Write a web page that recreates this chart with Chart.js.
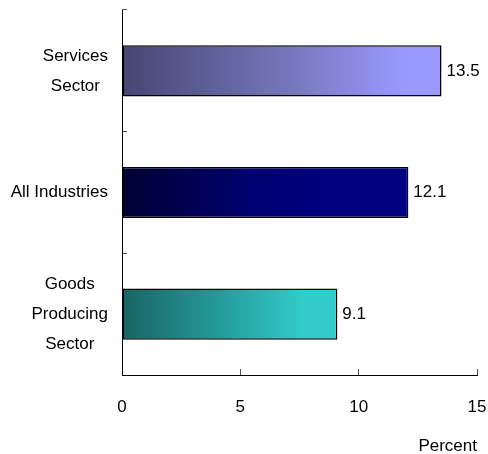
<!DOCTYPE html>
<html>
<head>
<meta charset="utf-8">
<script src="https://cdn.jsdelivr.net/npm/chart.js@4/dist/chart.umd.min.js"></script>
<style>
html,body{margin:0;padding:0;background:#fff;}
canvas{display:block;}
</style>
</head>
<body>
<canvas id="c" width="488" height="454"></canvas>
<script>
const categories = [["Services", "Sector"], ["All Industries"], ["Goods", "Producing", "Sector"]];
const values = [13.5, 12.1, 9.1];
const xTicks = [0, 5, 10, 15];
const axisTitle = "Percent";
const gradientStops = [
  [["#464673", 0], ["#7474b8", 0.5], ["#9999ff", 0.88], ["#9999ff", 1]],
  [["#000033", 0], ["#000070", 0.45], ["#000080", 0.7], ["#000080", 1]],
  [["#1a6464", 0], ["#259a9a", 0.45], ["#33cccc", 0.85], ["#33cccc", 1]]
];

const FONT = "'Liberation Sans', Arial, sans-serif";
const FS = 17;

function barGradient(ctx) {
  const chart = ctx.chart;
  const i = ctx.dataIndex;
  if (!chart.chartArea) return gradientStops[i][0][0];
  const x0 = chart.scales.x.getPixelForValue(0);
  const x1 = chart.scales.x.getPixelForValue(values[i]);
  const g = chart.ctx.createLinearGradient(x0, 0, x1, 0);
  gradientStops[i].forEach(([c, p]) => g.addColorStop(p, c));
  return g;
}

const labelPlugin = {
  id: 'labels',
  afterDatasetsDraw(chart) {
    const ctx = chart.ctx;
    const meta = chart.getDatasetMeta(0);
    const yScale = chart.scales.y;
    ctx.save();
    ctx.font = FS + "px " + FONT;
    ctx.fillStyle = "#000";
    ctx.textBaseline = "middle";
    meta.data.forEach((bar, i) => {
      ctx.textAlign = "left";
      ctx.fillText(values[i].toFixed(1), bar.x + 5, bar.y);
    });
    const lineH = 30;
    categories.forEach((lines, i) => {
      const y = yScale.getPixelForValue(i);
      const widest = Math.max(...lines.map(l => ctx.measureText(l).width));
      const cx = yScale.right - 14 - widest / 2;
      const top = y - (lines.length - 1) * lineH / 2;
      ctx.textAlign = "center";
      lines.forEach((l, k) => ctx.fillText(l, cx, top + k * lineH));
    });
    ctx.restore();
  }
};

new Chart(document.getElementById('c'), {
  type: 'bar',
  data: {
    labels: categories,
    datasets: [{
      data: values,
      backgroundColor: barGradient,
      borderColor: "#000",
      borderWidth: 1.5,
      borderSkipped: false,
      barPercentage: 0.84,
      categoryPercentage: 0.5
    }]
  },
  options: {
    indexAxis: 'y',
    responsive: false,
    animation: false,
    devicePixelRatio: 1,
    layout: { padding: { top: 10, right: 11, left: 0, bottom: 0 } },
    plugins: { legend: { display: false }, tooltip: { enabled: false } },
    scales: {
      y: {
        type: 'category',
        position: 'left',
        afterFit(s) { s.width = 122; s.paddingTop = 0; s.paddingBottom = 0; },
        ticks: { display: false },
        grid: { drawOnChartArea: false, offset: true, tickLength: -5, color: "#555", lineWidth: 1 },
        border: { color: "#000", width: 1 }
      },
      x: {
        type: 'linear',
        min: 0, max: 15,
        afterBuildTicks(s) { s.ticks = xTicks.map(v => ({ value: v })); },
        afterFit(s) { s.height = 79; s.paddingLeft = 0; s.paddingRight = 0; },
        ticks: { color: "#000", font: { family: FONT, size: FS }, padding: 28, maxRotation: 0 },
        grid: { drawOnChartArea: false, tickLength: -6, color: "#555", lineWidth: 1 },
        border: { color: "#000", width: 1 },
        title: { display: true, text: axisTitle, align: 'end', color: "#000", font: { family: FONT, size: FS }, padding: { top: 0, bottom: -3 } }
      }
    }
  },
  plugins: [labelPlugin]
});
</script>
</body>
</html>
